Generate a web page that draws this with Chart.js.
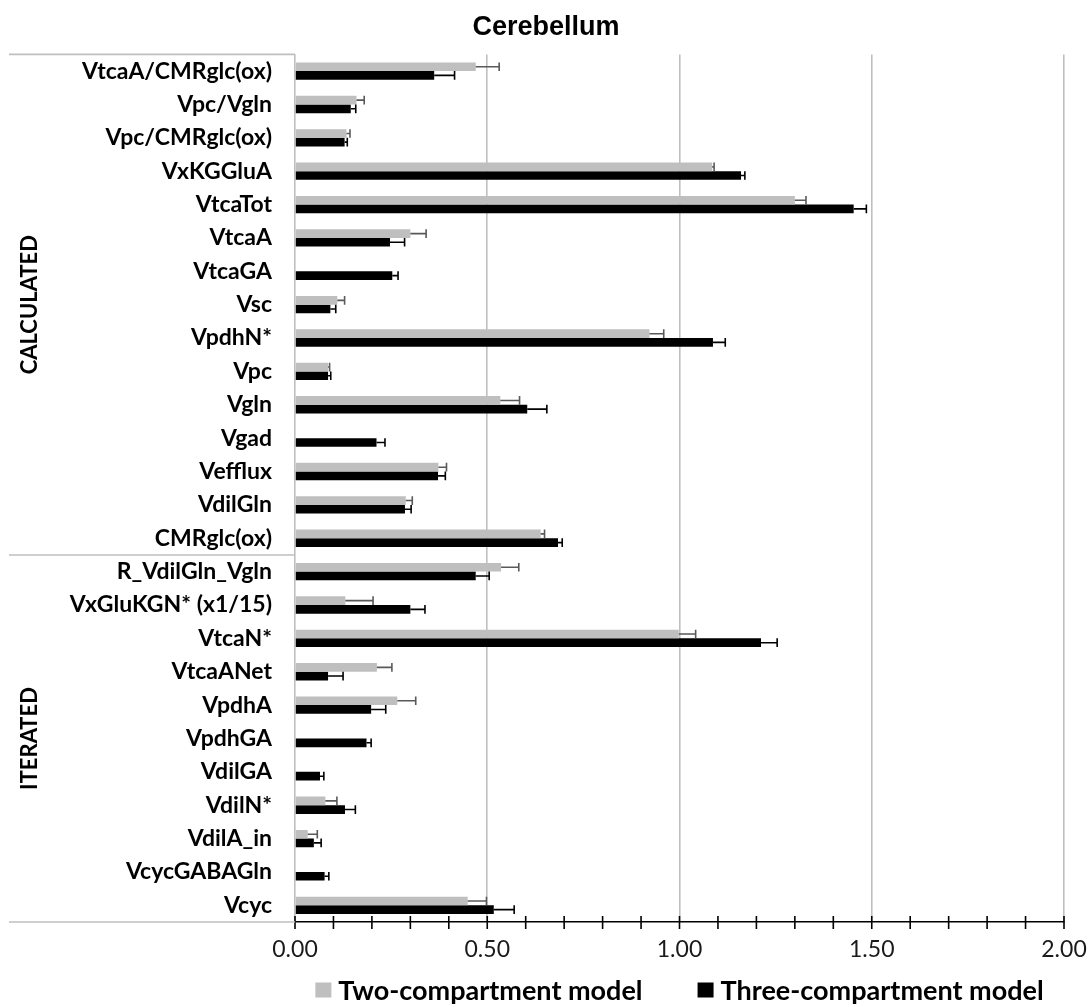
<!DOCTYPE html>
<html>
<head>
<meta charset="utf-8">
<script src="https://cdn.jsdelivr.net/npm/chart.js@4.4.1/dist/chart.umd.min.js"></script>
<style>
  html, body { margin: 0; padding: 0; background: #fff; }
</style>
</head>
<body>
<canvas id="chart" width="1092" height="1007"></canvas>
<script>
// Data
const categories = [
  "VtcaA/CMRglc(ox)", "Vpc/Vgln", "Vpc/CMRglc(ox)", "VxKGGluA", "VtcaTot",
  "VtcaA", "VtcaGA", "Vsc", "VpdhN*", "Vpc", "Vgln", "Vgad", "Vefflux",
  "VdilGln", "CMRglc(ox)", "R_VdilGln_Vgln", "VxGluKGN* (x1/15)", "VtcaN*",
  "VtcaANet", "VpdhA", "VpdhGA", "VdilGA", "VdilN*", "VdilA_in",
  "VcycGABAGln", "Vcyc"
];
const twoCompartment = [
  0.470, 0.160, 0.134, 1.085, 1.300, 0.300, null, 0.110, 0.922, 0.086,
  0.534, null, 0.373, 0.288, 0.639, 0.536, 0.131, 0.998, 0.213, 0.266,
  null, null, 0.079, 0.033, null, 0.449
];
const twoCompartmentErr = [
  0.061, 0.020, 0.009, 0.005, 0.029, 0.041, null, 0.019, 0.037, 0.004,
  0.050, null, 0.021, 0.017, 0.010, 0.046, 0.072, 0.044, 0.039, 0.048,
  null, null, 0.030, 0.025, null, 0.049
];
const threeCompartment = [
  0.362, 0.145, 0.129, 1.160, 1.453, 0.247, 0.253, 0.092, 1.087, 0.086,
  0.604, 0.212, 0.372, 0.286, 0.684, 0.470, 0.300, 1.212, 0.086, 0.198,
  0.186, 0.065, 0.130, 0.049, 0.077, 0.517
];
const threeCompartmentErr = [
  0.053, 0.013, 0.007, 0.010, 0.033, 0.038, 0.015, 0.014, 0.032, 0.007,
  0.051, 0.022, 0.019, 0.016, 0.011, 0.035, 0.038, 0.042, 0.039, 0.038,
  0.012, 0.010, 0.027, 0.019, 0.011, 0.053
];
const groups = [
  { name: "CALCULATED", from: 0, to: 14 },
  { name: "ITERATED", from: 15, to: 25 }
];

const LABEL_FONT = "Lato";
const GRID_GRAY = "#BFBFBF";

// Error bars (positive side only, with caps)
const errorBars = {
  id: "errorBars",
  afterDatasetsDraw(chart) {
    const ctx = chart.ctx;
    const xs = chart.scales.x;
    chart.data.datasets.forEach((ds, i) => {
      const meta = chart.getDatasetMeta(i);
      ctx.save();
      ctx.strokeStyle = ds.errorColor;
      ctx.lineWidth = 1.6;
      meta.data.forEach((bar, j) => {
        const v = ds.data[j], e = ds.errors[j];
        if (v == null || e == null) return;
        const x0 = xs.getPixelForValue(v);
        const x1 = xs.getPixelForValue(v + e);
        const h = bar.height / 2;
        ctx.beginPath();
        ctx.moveTo(x0, bar.y);
        ctx.lineTo(x1, bar.y);
        ctx.moveTo(x1, bar.y - h);
        ctx.lineTo(x1, bar.y + h);
        ctx.stroke();
      });
      ctx.restore();
    });
  }
};

// Cross tick marks on the x axis, group lines and group labels
const axisExtras = {
  id: "axisExtras",
  afterDraw(chart) {
    const ctx = chart.ctx;
    const xs = chart.scales.x, ys = chart.scales.y;
    const area = chart.chartArea;
    ctx.save();
    ctx.strokeStyle = "#000";
    ctx.lineWidth = 1.6;
    xs.ticks.forEach((t) => {
      const px = xs.getPixelForValue(t.value);
      ctx.beginPath();
      ctx.moveTo(px, area.bottom - 6);
      ctx.lineTo(px, area.bottom + 7);
      ctx.stroke();
    });

    ctx.strokeStyle = GRID_GRAY;
    ctx.lineWidth = 1.6;
    const left = 9;
    const edges = [area.top, area.bottom];
    for (let g = 1; g < groups.length; g++) {
      const a = ys.getPixelForValue(groups[g - 1].to);
      const b = ys.getPixelForValue(groups[g].from);
      edges.push((a + b) / 2);
    }
    edges.forEach((y) => {
      ctx.beginPath();
      ctx.moveTo(left, y);
      ctx.lineTo(area.left, y);
      ctx.stroke();
    });

    ctx.fillStyle = "#000";
    ctx.font = "bold 22px " + LABEL_FONT;
    ctx.textAlign = "center";
    ctx.textBaseline = "middle";
    groups.forEach((g, i) => {
      const top = i === 0 ? area.top : (ys.getPixelForValue(g.from) + ys.getPixelForValue(g.from - 1)) / 2;
      const bottom = i === groups.length - 1 ? area.bottom : (ys.getPixelForValue(g.to) + ys.getPixelForValue(g.to + 1)) / 2;
      ctx.save();
      ctx.translate(30, (top + bottom) / 2);
      ctx.rotate(-Math.PI / 2);
      ctx.fillText(g.name, 0, 0);
      ctx.restore();
    });
    ctx.restore();
  }
};

// Legend at the bottom, centred on the plot area
const bottomLegend = {
  id: "bottomLegend",
  afterDraw(chart) {
    const ctx = chart.ctx;
    const area = chart.chartArea;
    const box = 16, gap = 7, spacing = 55, y = 990;
    ctx.save();
    ctx.font = "bold 27px " + LABEL_FONT;
    ctx.textBaseline = "middle";
    const items = chart.data.datasets.map((ds) => ({
      text: ds.label, color: ds.backgroundColor, w: ctx.measureText(ds.label).width
    }));
    const total = items.reduce((s, it) => s + box + gap + it.w, 0) + spacing * (items.length - 1);
    let x = (area.left + area.right) / 2 - total / 2;
    items.forEach((it) => {
      ctx.fillStyle = it.color;
      ctx.fillRect(x, y - 7.5, box, 15);
      ctx.fillStyle = "#000";
      ctx.fillText(it.text, x + box + gap, y + 1);
      x += box + gap + it.w + spacing;
    });
    ctx.restore();
  }
};

const ctx = document.getElementById("chart").getContext("2d");
new Chart(ctx, {
  type: "bar",
  data: {
    labels: categories,
    datasets: [
      {
        label: "Two-compartment model",
        data: twoCompartment,
        errors: twoCompartmentErr,
        errorColor: "#595959",
        backgroundColor: GRID_GRAY,
        categoryPercentage: 0.52,
        barPercentage: 1.0
      },
      {
        label: "Three-compartment model",
        data: threeCompartment,
        errors: threeCompartmentErr,
        errorColor: "#000000",
        backgroundColor: "#000000",
        categoryPercentage: 0.52,
        barPercentage: 1.0
      }
    ]
  },
  options: {
    indexAxis: "y",
    responsive: false,
    animation: false,
    layout: { padding: 0 },
    plugins: {
      legend: { display: false },
      tooltip: { enabled: false },
      title: {
        display: true,
        text: "Cerebellum",
        color: "#000",
        font: { family: "Liberation Sans", size: 27, weight: "bold" },
        padding: { top: 11, bottom: 11 }
      }
    },
    scales: {
      x: {
        min: 0,
        max: 2,
        afterFit(scale) {
          scale.height = 85;
          scale.paddingRight = 28;
        },
        border: { color: "#000", width: 1.6 },
        grid: {
          drawTicks: false,
          lineWidth: 1.6,
          color: (c) => {
            const v = c.tick ? c.tick.value : 0;
            return v > 0 && Math.abs(v * 2 - Math.round(v * 2)) < 1e-6 ? GRID_GRAY : "rgba(0,0,0,0)";
          }
        },
        ticks: {
          stepSize: 0.1,
          autoSkip: false,
          maxRotation: 0,
          padding: 14,
          color: "#1a1a1a",
          font: { family: LABEL_FONT, size: 23 },
          callback: (v) => (Math.abs(v * 2 - Math.round(v * 2)) < 1e-6 ? Number(v).toFixed(2) : "")
        }
      },
      y: {
        afterFit(scale) {
          scale.width = 295;
        },
        border: { color: GRID_GRAY, width: 1.6 },
        grid: { display: false, drawTicks: false },
        ticks: {
          autoSkip: false,
          padding: 23,
          color: "#000",
          font: { family: LABEL_FONT, size: 23, weight: "bold" }
        }
      }
    }
  },
  plugins: [errorBars, axisExtras, bottomLegend]
});
</script>
</body>
</html>
